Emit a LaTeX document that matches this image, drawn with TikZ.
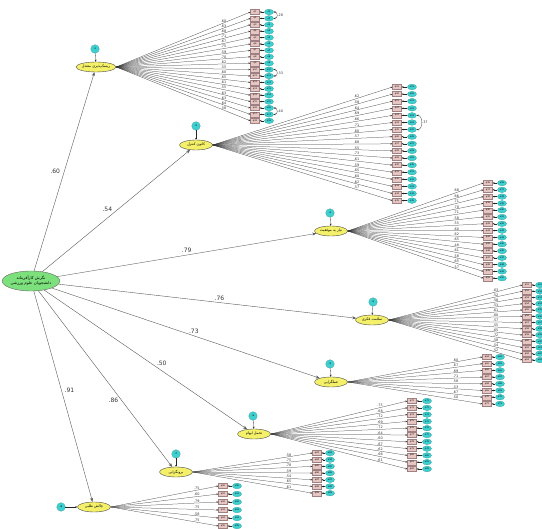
\documentclass[tikz,border=0pt]{standalone}
\usepackage{fontspec}
\setmainfont{DejaVu Sans}
\newfontfamily\arabicfont[Script=Arabic]{DejaVu Sans}
\TeXXeTstate=1
\usetikzlibrary{arrows.meta,shapes.geometric}
\definecolor{latfill}{HTML}{F4F06A}
\definecolor{mainfill}{HTML}{7CE07C}
\definecolor{pinkfill}{HTML}{E6C6C2}
\definecolor{pinkdraw}{HTML}{A08080}
\definecolor{cyanfill}{HTML}{3ED0D0}
\definecolor{cyandraw}{HTML}{208C8C}
\tikzset{
  lat/.style={ellipse, draw=black!70, fill=latfill, minimum width=33pt, minimum height=10pt, inner sep=0pt, line width=0.4pt, font=\arabicfont\fontsize{3.6}{4}\selectfont},
  mainlat/.style={ellipse, draw=black!60, fill=mainfill, minimum width=54pt, minimum height=20pt, inner sep=0pt, align=center, font=\arabicfont\fontsize{4}{5}\selectfont},
  ind/.style={rectangle, draw=pinkdraw, fill=pinkfill, minimum width=9pt, minimum height=5pt, inner sep=0pt, line width=0.2pt, font=\fontsize{2.2}{2.2}\selectfont},
  err/.style={ellipse, draw=cyandraw, fill=cyanfill, minimum width=9pt, minimum height=5.6pt, inner sep=0pt, line width=0.2pt, font=\fontsize{2.2}{2.2}\selectfont},
  res/.style={circle, draw=cyandraw, fill=cyanfill, minimum size=8.5pt, inner sep=0pt, line width=0.2pt, font=\fontsize{2.2}{2.2}\selectfont},
  arr/.style={-{Stealth[length=2pt,width=1.6pt]}, draw=black!85, line width=0.3pt},
  rarr/.style={-{Stealth[length=2pt,width=1.8pt]}, draw=black!85, line width=0.3pt},
  load/.style={-{Stealth[length=2pt,width=1.6pt]}, draw=black!80, line width=0.25pt},
  strpath/.style={-{Stealth[length=4pt,width=3pt]}, draw=black!65, line width=0.4pt},
  cov/.style={{Stealth[length=2pt,width=1.6pt]}-{Stealth[length=2pt,width=1.6pt]}, draw=black!85, line width=0.3pt},
  lbl/.style={font=\fontsize{3.4}{3.4}\selectfont, inner sep=0.5pt, text=black!80},
  plbl/.style={font=\fontsize{6}{6}\selectfont, inner sep=1pt, text=black!80}
}
\newcommand\indblock[7]{%
  \foreach \ld [count=\i] in {#7} {%
    \pgfmathtruncatemacro\nn{\i+#6}%
    \pgfmathsetmacro\yy{#4+(\i-1)*#5}%
    \node[ind] (#1q\i) at (#2,\yy) {q\nn};
    \node[err] (#1e\i) at (#3,\yy) {e\nn};
    \draw[arr] (#1e\i) -- (#1q\i);
    \draw[load] (#1.east) -- node[lbl, pos=0.8, above] {\ld} (#1q\i.west);
  }}
\begin{document}
\begin{tikzpicture}[x=1pt,y=-1pt]
\useasboundingbox (0,0) rectangle (542,529);
% main latent
\node[mainlat] (main) at (31,281) {\beginR نگرش کارآفرینانه\endR\\\beginR دانشجویان علوم ورزشی\endR};
% factors
\node[lat] (f1) at (96,67) {\beginR ریسک‌پذیری معتدل\endR};
\node[lat] (f2) at (196,145) {\beginR کانون کنترل\endR};
\node[lat] (f3) at (331,231) {\beginR نیاز به موفقیت\endR};
\node[lat] (f4) at (372,320) {\beginR سلامت فکری\endR};
\node[lat] (f5) at (331,382) {\beginR عملگرایی\endR};
\node[lat] (f6) at (254,434) {\beginR تحمل ابهام\endR};
\node[lat] (f7) at (176,472) {\beginR برونگرایی\endR};
\node[lat] (f8) at (94,507) {\beginR چالش طلبی\endR};
% residuals
\node[res] (r1) at (95,49) {r1};
\node[res] (r2) at (196,126) {r2};
\node[res] (r3) at (330,213) {r3};
\node[res] (r4) at (373,302) {r4};
\node[res] (r5) at (330,364) {r5};
\node[res] (r6) at (253,416) {r6};
\node[res] (r7) at (176,454) {r7};
\node[res] (r8) at (61,507) {r8};
\foreach \k in {1,...,8} {\draw[rarr] (r\k) -- (f\k);}
% structural paths
\draw[strpath] (main) -- node[plbl, pos=0.5, left=3pt] {.60} (f1);
\draw[strpath] (main) -- node[plbl, pos=0.48, above left=0pt] {.54} (f2);
\draw[strpath] (main) -- node[plbl, pos=0.5, above=1pt] {.79} (f3);
\draw[strpath] (main) -- node[plbl, pos=0.54, above=1pt] {.76} (f4);
\draw[strpath] (main) -- node[plbl, pos=0.53, above=1pt] {.73} (f5);
\draw[strpath] (main) -- node[plbl, pos=0.55, above right=0pt] {.50} (f6);
\draw[strpath] (main) -- node[plbl, pos=0.62, left=2pt] {.86} (f7);
\draw[strpath] (main) -- node[plbl, pos=0.47, right=2pt] {.91} (f8);
% indicator blocks
\indblock{f1}{255}{269}{12}{6.4}{0}{.60,.63,.68,.71,.67,.75,.59,.70,.62,.55,.60,.65,.61,.55,.63,.63,.64,.58}
\indblock{f2}{397}{412}{87}{7.1}{18}{.62,.58,.64,.69,.66,.71,.60,.57,.68,.55,.73,.61,.59,.65,.60,.62,.57}
\indblock{f3}{488}{502}{183}{6.8}{35}{.68,.66,.71,.70,.71,.58,.55,.60,.62,.65,.48,.61,.58,.65,.57}
\indblock{f4}{527}{540}{285}{6.25}{50}{.63,.52,.58,.53,.61,.60,.57,.55,.65,.72,.58,.54,.52}
\indblock{f5}{487}{500}{357}{6.7}{63}{.60,.67,.69,.71,.58,.53,.67,.50}
\indblock{f6}{412}{427}{401}{6.8}{71}{.75,.68,.72,.69,.72,.64,.60,.67,.62,.66,.61}
\indblock{f7}{317}{330}{453}{6.7}{82}{.58,.75,.78,.59,.54,.65,.61}
\indblock{f8}{223}{237}{486}{8}{89}{.75,.60,.79,.75,.58,.75}
% covariances
\draw[cov] (f1e1.east) to[out=0,in=0,looseness=1.8] node[lbl, right] {.28} (f1e2.east);
\draw[cov] (f1e10.east) to[out=0,in=0,looseness=1.8] node[lbl, right] {.33} (f1e11.east);
\draw[cov] (f1e16.east) to[out=0,in=0,looseness=1.8] node[lbl, right] {.40} (f1e17.east);
\draw[cov] (f2e5.east) to[out=0,in=0,looseness=1.2] node[lbl, right] {.37} (f2e7.east);
\end{tikzpicture}
\end{document}
